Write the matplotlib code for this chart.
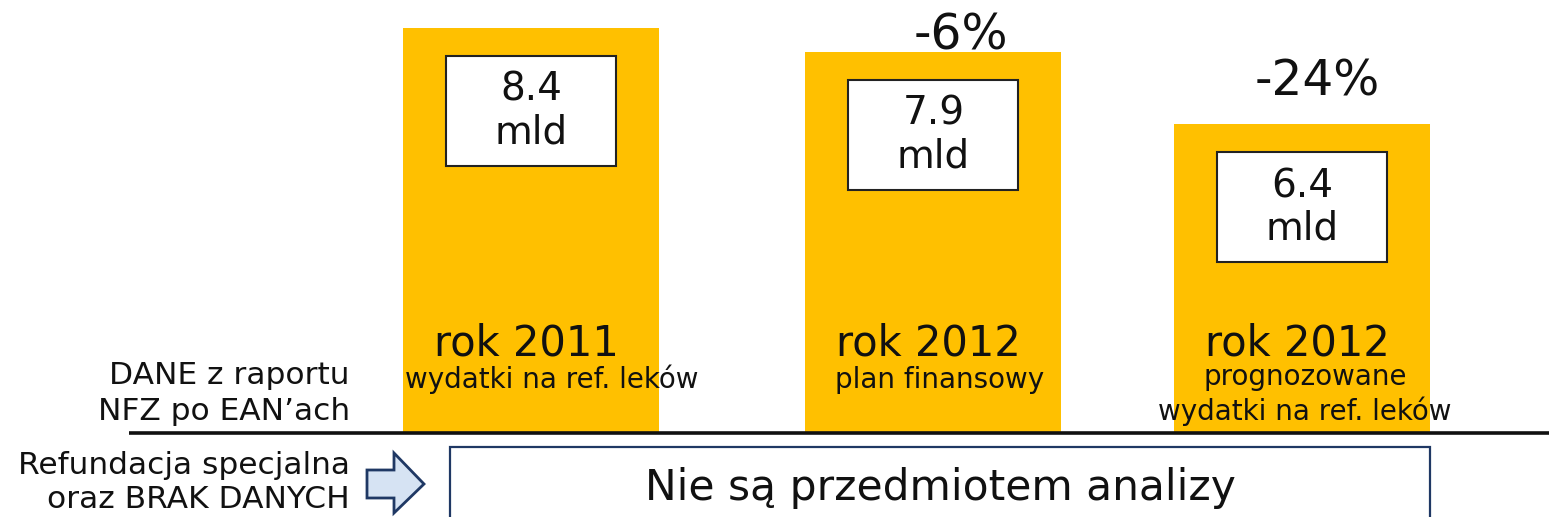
import matplotlib
matplotlib.use('Agg')
import matplotlib.pyplot as plt
from matplotlib.patches import Rectangle, Polygon

plt.rcParams['font.family'] = ['DejaVu Sans']

# data
categories = ['rok 2011', 'rok 2012', 'rok 2012']
subtitles = ['wydatki na ref. leków', 'plan finansowy', 'prognozowane\nwydatki na ref. leków']
values = [8.4, 7.9, 6.4]
value_labels = ['8.4\nmld', '7.9\nmld', '6.4\nmld']
change_labels = ['', '-6%', '-24%']
left_top = 'DANE z raportu\nNFZ po EAN’ach'
left_bottom = 'Refundacja specjalna\noraz BRAK DANYCH'
box_text = 'Nie są przedmiotem analizy'

# layout (pixels)
W, H = 1549, 517
BASE = 433
SCALE = 405 / 8.4
bar_x = [531, 933.5, 1302]
sub_x = [552, 940, 1305]
change_pos = [None, (961, 50), (1317, 95)]
BAR_COLOR = '#FFC000'
NAVY = '#1F3864'
TXT = '#111111'

fig = plt.figure(figsize=(W / 100, H / 100), dpi=100)

ax = fig.add_axes([0, 0, 1, 1])
ax.set_xlim(0, W)
ax.set_ylim(-(H - BASE) / SCALE, BASE / SCALE)
ax.axis('off')

ax.bar(bar_x, values, width=256, color=BAR_COLOR, zorder=1)

for x, v, lab in zip(bar_x, values, value_labels):
    top = v - 28 / SCALE
    h = 110 / SCALE
    ax.add_patch(Rectangle((x - 85, top - h), 170, h, facecolor='white',
                           edgecolor='#222222', linewidth=1.5, zorder=2))
    ax.text(x, top - h / 2, lab, ha='center', va='center', fontsize=28,
            linespacing=1.15, color=TXT, zorder=3)

for x, cat in zip(bar_x, categories):
    ax.text(x - 5, (BASE - 355) / SCALE, cat, ha='center', va='baseline',
            fontsize=30, color=TXT, zorder=3)

# overlay in pixel coordinates for the slide decorations
deco = fig.add_axes([0, 0, 1, 1], zorder=5)
deco.set_xlim(0, W)
deco.set_ylim(H, 0)
deco.axis('off')
deco.patch.set_alpha(0)

for chg, pos in zip(change_labels, change_pos):
    if chg:
        deco.text(pos[0], pos[1], chg, ha='center', va='baseline', fontsize=35, color=TXT)

for x, sub in zip(sub_x, subtitles):
    n = sub.count('\n')
    deco.text(x, 388 + 32 * n, sub, ha='center', va='baseline',
              fontsize=20, color=TXT, linespacing=1.25)

deco.plot([129, W], [BASE, BASE], color=TXT, linewidth=2.6, solid_capstyle='butt')

deco.text(350, 420, left_top, ha='right', va='baseline', fontsize=22.5,
          color=TXT, linespacing=1.32)
deco.text(350, 508, left_bottom, ha='right', va='baseline', fontsize=22.5,
          color=TXT, linespacing=1.2)

arrow = [(367, 470), (394, 470), (394, 453), (424, 484), (394, 513),
         (394, 498), (367, 498)]
deco.add_patch(Polygon(arrow, closed=True, facecolor='#D6E3F3', edgecolor=NAVY,
                       linewidth=2))

deco.add_patch(Rectangle((450, 447), 980, 90, facecolor='white', edgecolor=NAVY,
                         linewidth=1.6))
deco.text(940, 500, box_text, ha='center', va='baseline', fontsize=30.5, color=TXT)

fig.savefig('out.png', dpi=100)
